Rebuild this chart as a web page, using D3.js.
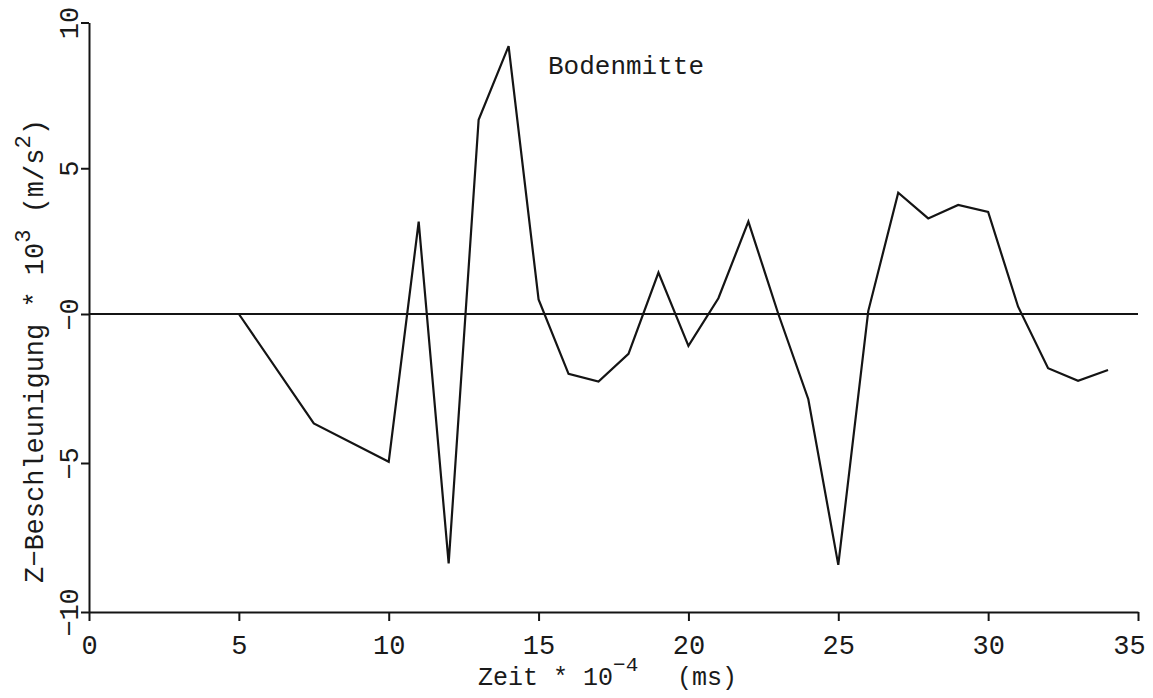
<!DOCTYPE html>
<html>
<head>
<meta charset="utf-8">
<script src="https://cdn.jsdelivr.net/npm/d3@7"></script>
<style>
  html, body { margin: 0; padding: 0; background: #fff; }
  svg { display: block; }
  text { font-family: "Liberation Mono", "DejaVu Sans Mono", monospace; fill: #1a1a1a; }
</style>
</head>
<body>
<svg id="chart" width="1153" height="698"></svg>
<script>
// Vertical acceleration at the centre of the floor (Bodenmitte)
const times = [5, 7.5, 10, 11, 12, 13, 14, 15, 16, 17, 18, 19, 20, 21, 22, 23, 24, 25, 26, 27, 28, 29, 30, 31, 32, 33, 34];
const accel = [0, -3.67, -4.96, 3.17, -8.37, 6.66, 9.19, 0.5, -2.01, -2.27, -1.34, 1.42, -1.07, 0.54, 3.17, 0.0, -2.86, -8.42, 0.1, 4.16, 3.28, 3.74, 3.5, 0.25, -1.82, -2.24, -1.88];

const xTicks = [0, 5, 10, 15, 20, 25, 30, 35];
const xTickLabels = ["0", "5", "10", "15", "20", "25", "30", "35"];
const yTicks = [-10, -5, 0, 5, 10];
const yTickLabels = ["\u221210", "\u22125", "\u22120", "5", "10"];

const seriesLabel = "Bodenmitte";

const svg = d3.select("#chart");
svg.append("rect").attr("width", 1153).attr("height", 698).attr("fill", "#fff");

const x = d3.scaleLinear().domain([0, 35]).range([89, 1138]);
const y = d3.scaleLinear().domain([-10, 0, 10]).range([612, 314, 22.5]);

const ink = "#141414";

// x axis
const xAxis = svg.append("g")
  .attr("transform", `translate(0,${y(-10)})`)
  .call(d3.axisBottom(x).tickValues(xTicks).tickSize(9).tickSizeOuter(0)
    .tickFormat((d, i) => xTickLabels[i]));
xAxis.select(".domain").attr("stroke", ink).attr("stroke-width", 2);
xAxis.selectAll(".tick line").attr("stroke", ink).attr("stroke-width", 2);
xAxis.selectAll(".tick text")
  .attr("y", 42).attr("dy", 0)
  .attr("x", d => d === 35 ? -9 : 0)
  .attr("font-size", 27)
  .attr("font-family", "Liberation Mono, monospace")
  .attr("fill", ink);

// y axis
const yAxis = svg.append("g")
  .attr("transform", `translate(${x(0)},0)`)
  .call(d3.axisLeft(y).tickValues(yTicks).tickSize(8).tickSizeOuter(0)
    .tickFormat(d => yTickLabels[yTicks.indexOf(d)]));
yAxis.select(".domain").attr("stroke", ink).attr("stroke-width", 2);
yAxis.selectAll(".tick line").attr("stroke", ink).attr("stroke-width", 2);
yAxis.selectAll(".tick text")
  .attr("x", 0).attr("y", 0).attr("dy", 0)
  .attr("transform", "translate(-11,0) rotate(-90)")
  .attr("text-anchor", "middle")
  .attr("font-size", 27)
  .attr("font-family", "Liberation Mono, monospace")
  .attr("fill", ink);

// zero reference line
svg.append("line")
  .attr("x1", x(0)).attr("x2", x(35))
  .attr("y1", y(0)).attr("y2", y(0))
  .attr("stroke", ink).attr("stroke-width", 2);

// measured curve
const line = d3.line().x((d, i) => x(times[i])).y(d => y(d));
svg.append("path")
  .datum(accel)
  .attr("d", line)
  .attr("fill", "none")
  .attr("stroke", ink)
  .attr("stroke-width", 2.2)
  .attr("stroke-linejoin", "miter");

// series label
svg.append("text")
  .attr("x", 548).attr("y", 74)
  .attr("font-size", 26)
  .text(seriesLabel);

// x axis title
const xt = svg.append("text")
  .attr("x", 478).attr("y", 685)
  .attr("font-size", 25);
xt.append("tspan").text("Zeit * 10");
xt.append("tspan").attr("dy", -14).attr("font-size", 21).text("\u22124");
xt.append("tspan").attr("x", 677).attr("dy", 14).text("(ms)");

// y axis title
const yt = svg.append("text")
  .attr("transform", "translate(43,583) rotate(-90)")
  .attr("font-size", 27);
yt.append("tspan").text("Z\u2212Beschleunigung * 10");
yt.append("tspan").attr("dy", -13).attr("font-size", 22).text("3");
yt.append("tspan").attr("dy", 13).text(" (m/s");
yt.append("tspan").attr("dy", -13).attr("font-size", 22).text("2");
yt.append("tspan").attr("dy", 13).text(")");
</script>
</body>
</html>
